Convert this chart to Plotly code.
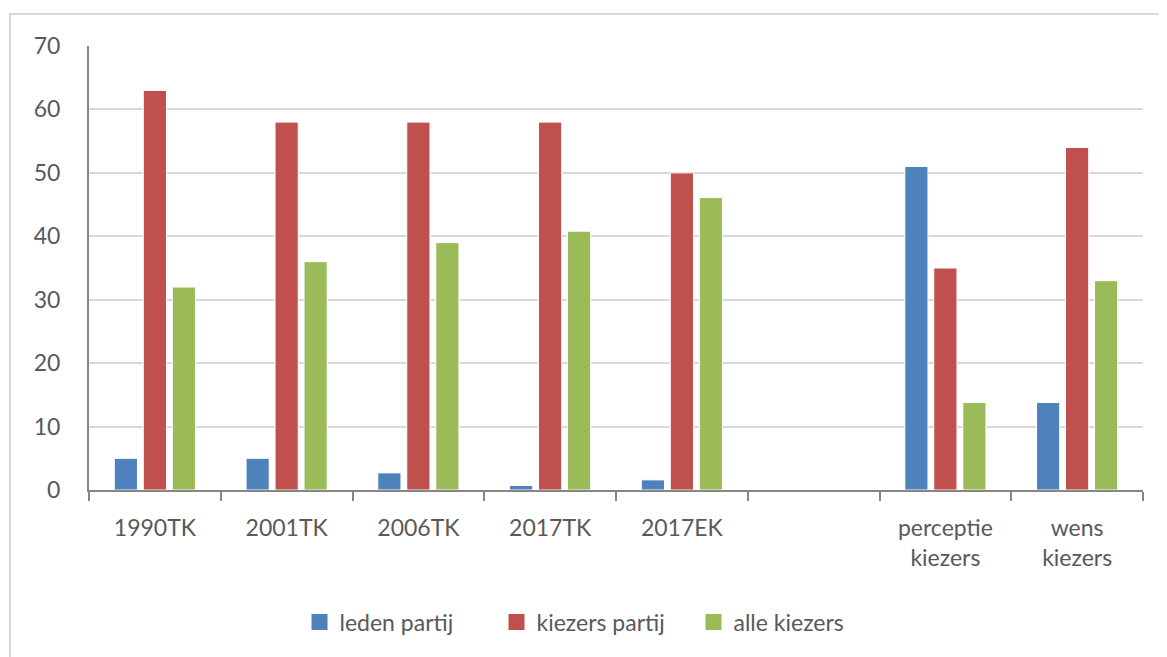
import plotly.graph_objects as go

categories = ["1990TK", "2001TK", "2006TK", "2017TK", "2017EK", " ",
              "perceptie<br>kiezers", "wens<br>kiezers"]
leden_partij = [5, 5, 2.7, 0.7, 1.6, None, 51, 13.8]
kiezers_partij = [63, 58, 58, 58, 50, None, 35, 54]
alle_kiezers = [32, 36, 39, 40.8, 46.1, None, 13.8, 33]
y_ticks = [0, 10, 20, 30, 40, 50, 60, 70]

series = [
    ("leden partij", leden_partij, "#4F81BD"),
    ("kiezers partij", kiezers_partij, "#C0504D"),
    ("alle kiezers", alle_kiezers, "#9BBB59"),
]

# page body has an 8px margin, so the figure is slightly smaller
W, H = 1159, 649
L, T = 81, 38
PW, PH = 1054, 444
R = W - L - PW
B = H - T - PH

FONT = "Lato, 'Open Sans', sans-serif"
font = dict(family=FONT, size=23, color="#595959")

fig = go.Figure()
for name, vals, col in series:
    fig.add_trace(go.Bar(
        x=categories, y=vals, name=name, showlegend=False,
        marker=dict(color=col, line=dict(color="white", width=1)),
    ))
# legend entries with larger square swatches
for name, vals, col in series:
    fig.add_trace(go.Scatter(
        x=[None], y=[None], name=name, mode="markers",
        marker=dict(symbol="square", size=17, color=col),
        showlegend=True,
    ))

# outer chart border
fig.add_shape(type="rect", xref="paper", yref="paper",
              x0=(2 - L) / PW, x1=(1180 - L) / PW,
              y0=-(670 - (T + PH)) / PH, y1=((T + PH) - 6) / PH,
              line=dict(color="#D9D9D9", width=2), fillcolor="rgba(0,0,0,0)",
              layer="below")

fig.update_layout(
    width=W, height=H,
    margin=dict(l=L, r=R, t=T, b=B, pad=0),
    paper_bgcolor="white", plot_bgcolor="white",
    barmode="group", bargap=0.34, bargroupgap=0.2,
    font=font,
    showlegend=True,
    legend=dict(orientation="h", x=(587 - L) / PW, xanchor="center",
                y=-(614 - (T + PH)) / PH, yanchor="middle",
                font=font, itemwidth=30, traceorder="normal",
                entrywidth=152, entrywidthmode="pixels",
                tracegroupgap=0),
    xaxis=dict(type="category", showline=True, linecolor="#868686", linewidth=2,
               ticks="outside", tickson="boundaries", ticklen=9, tickwidth=2,
               tickcolor="#868686", showgrid=False, ticklabelstandoff=16,
               tickfont=font),
    yaxis=dict(range=[0, 70], tickvals=y_ticks, showline=True, linecolor="#868686",
               linewidth=2, showgrid=True, gridcolor="#D9D9D9", gridwidth=2,
               ticks="", zeroline=False, ticklabelstandoff=22, tickfont=font),
)

fig.write_html("out.html")
